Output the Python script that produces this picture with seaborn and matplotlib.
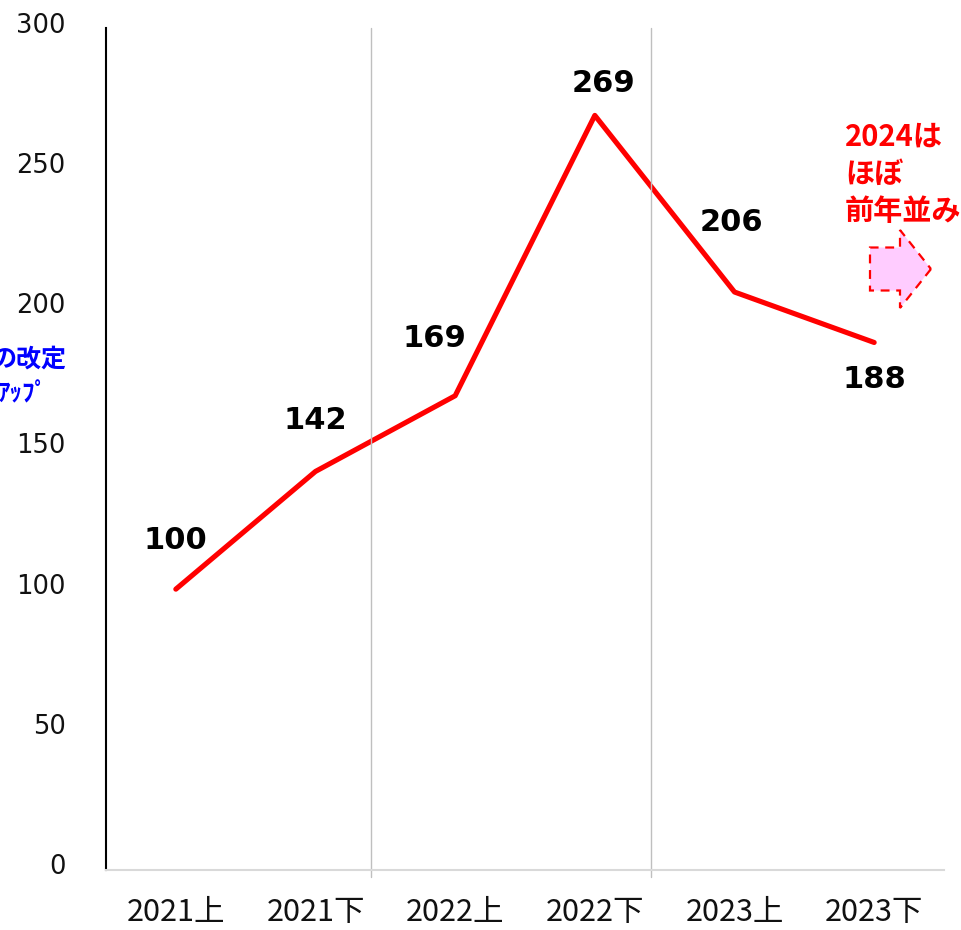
import matplotlib
matplotlib.use('Agg')
import matplotlib.pyplot as plt
import matplotlib.transforms as mtransforms
import seaborn as sns
import pandas as pd
from matplotlib.patches import FancyArrow

# data
periods = ['2021上', '2021下', '2022上', '2022下', '2023上', '2023下']
index_values = [100, 142, 169, 269, 206, 188]
# label offsets in points (dx, dy) relative to each point
label_offsets = [(0, 35), (0, 37), (-15, 41), (6, 23), (-2, 50), (0, -27)]
y_ticks = [0, 50, 100, 150, 200, 250, 300]
note_lines = ['2024は', 'ほぼ', '前年並み']

sns.set_theme(style='white')
plt.rcParams['font.family'] = ['DejaVu Sans', 'Noto Sans CJK JP']

df = pd.DataFrame({'period': periods, 'value': index_values})

W, H = 961, 930
fig = plt.figure(figsize=(W / 100, H / 100), dpi=100)
ax = fig.add_axes([106 / W, 1 - 869.5 / H, (944 - 106) / W, (869.5 - 28.5) / H])

sns.lineplot(data=df, x='period', y='value', color='#FF0000', linewidth=3.7,
             ax=ax, sort=False)

ax.set_xlim(-0.5, 5.5)
ax.set_ylim(0, 300)
ax.set_yticks(y_ticks)
ax.set_xlabel('')
ax.set_ylabel('')

for s in ['top', 'right']:
    ax.spines[s].set_visible(False)
ax.spines['left'].set_color('black')
ax.spines['left'].set_linewidth(1.5)
ax.spines['bottom'].set_color('#D9D9D9')
ax.spines['bottom'].set_linewidth(1.5)

ax.tick_params(axis='y', length=0, pad=29, labelsize=18.5, labelcolor='#111111')
ax.tick_params(axis='x', length=0, pad=20)
for t in ax.get_xticklabels():
    t.set_fontfamily(['Noto Sans CJK JP'])
    t.set_fontsize(22)
    t.set_color('#111111')

# y labels sit a little above their gridline in the original
shift = mtransforms.ScaledTranslation(0, 4 / 72, fig.dpi_scale_trans)
for t in ax.get_yticklabels():
    t.set_transform(t.get_transform() + shift)

# separators between years
for xv in [1.4, 3.4]:
    ax.axvline(xv, ymin=-0.0085, ymax=1, color='#BFBFBF', linewidth=1, clip_on=False)

# value labels
for i, (v, off) in enumerate(zip(index_values, label_offsets)):
    ax.annotate(f'{v}', (i, v), xytext=off, textcoords='offset points',
                ha='center', va='center', fontsize=22, fontweight='bold',
                color='black', family=['DejaVu Sans'])

# note on the right
for k, line in enumerate(note_lines):
    fig.text(845 / W, 1 - (137 + 37 * k) / H, line, ha='left', va='center',
             fontsize=21, fontweight='bold', color='#FF0000',
             family=['Noto Sans CJK JP', 'DejaVu Sans'])

arrow = FancyArrow(870 / W, 1 - 269 / H, (931 - 870) / W, 0,
                   width=43 / H, head_width=78 / H, head_length=31 / W,
                   length_includes_head=True, transform=fig.transFigure,
                   facecolor='#FFCCFF', edgecolor='#FF0000',
                   linestyle=(0, (4, 3)), linewidth=1.6)
fig.patches.append(arrow)

# clipped side caption at the left edge
fig.text(66 / W, 1 - 360 / H, 'の改定', ha='right', va='center', fontsize=18,
         fontweight='bold', color='#0000FF', family=['Noto Sans CJK JP'])
fig.text(48 / W, 1 - 394 / H, 'ｱｯﾌﾟ', ha='right', va='center', fontsize=18,
         fontweight='bold', color='#0000FF', family=['Noto Sans CJK JP'])

fig.savefig('out.png', dpi=100, facecolor='white')
